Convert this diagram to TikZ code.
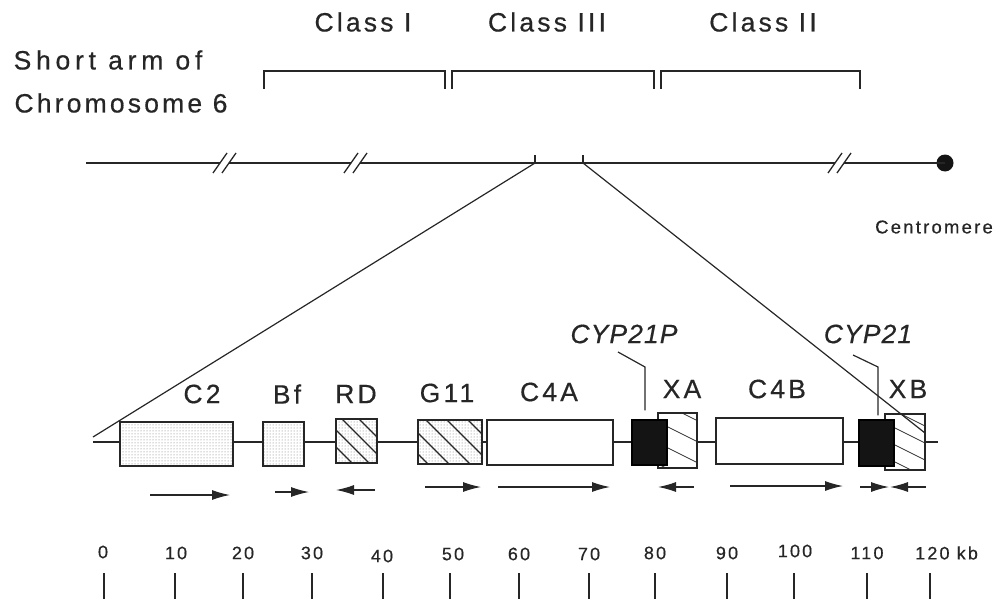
\documentclass[tikz,border=0pt]{standalone}
\usepackage{fontspec}
\setmainfont{Liberation Sans}[LetterSpace=12,FakeBold=0.5]
\usetikzlibrary{arrows.meta,patterns}
\begin{document}
\begin{tikzpicture}[x=1pt,y=-1pt,
  ink/.style={draw=black!85, line width=1.3pt},
  lbl/.style={inner sep=0pt, text=black!85, font=\fontsize{26.5}{30}\selectfont},
  ital/.style={lbl, font=\fontsize{26.5}{30}\selectfont\itshape\addfontfeature{LetterSpace=4}},
  small/.style={inner sep=0pt, text=black!85, font=\fontsize{18}{22}\selectfont},
  gene/.style={draw=black!85, line width=1.4pt, inner sep=0pt, fill=white},
  dotbox/.style={gene, preaction={fill=white}, pattern=dots, pattern color=black!55},
  blackbox/.style={draw=black, line width=1.4pt, inner sep=0pt, fill=black!92},
  hatchD/.style 2 args={path picture={
    \foreach \k in {-5,...,5}
      \draw[black!85, line width=1.2pt] ([xshift={\k*#1pt+#2pt}]path picture bounding box.north west) -- ++(80pt,-80pt);}},
  hatchX/.style 2 args={path picture={
    \foreach \k in {-3,...,4}
      \draw[black!80, line width=0.8pt] ([yshift={-\k*#1pt-#2pt}]path picture bounding box.north west) -- ++(90pt,-45pt);}},
  garrow/.style={draw=black!85, line width=1.2pt, -{Latex[length=18pt,width=10pt]}}
]
\useasboundingbox (0,0) rectangle (998,599);

% ---------- titles ----------
\node[lbl, font=\fontsize{26.5}{30}\selectfont\addfontfeature{LetterSpace=18}] (short) at (108,60) {Short arm of};
\node[lbl] (chrom) at (121,103) {Chromosome 6};
\node[lbl] (c1) at (363,22) {Class I};
\node[lbl] (c3) at (547,22) {Class III};
\node[lbl] (c2) at (763,22) {Class II};

% brackets
\draw[ink] (264,89) -- (264,71) -- (445,71) -- (445,89);
\draw[ink] (452,89) -- (452,71) -- (654,71) -- (654,89);
\draw[ink] (661,89) -- (661,71) -- (860,71) -- (860,89);

% ---------- chromosome ----------
\coordinate (chrL) at (86,163);
\node[circle, fill=black!92, minimum size=17pt, inner sep=0pt] (cen) at (945,163) {};
\node[small, font=\fontsize{18.5}{22}\selectfont] (cenlab) at (934,227) {Centromere};
\draw[ink] (chrL) -- (220,163);
\draw[ink] (213,173) -- (227,153) (222,173) -- (236,153);
\draw[ink] (229,163) -- (351,163);
\draw[ink] (344,173) -- (358,153) (353,173) -- (367,153);
\draw[ink] (360,163) -- (835,163);
\draw[ink] (828,173) -- (842,153) (837,173) -- (851,153);
\draw[ink] (844,163) -- (cen.center);
\coordinate (tA) at (535,163);
\coordinate (tB) at (583,163);
\draw[ink] (tA) -- (535,155);
\draw[ink] (tB) -- (583,155);

% ---------- gene map ----------
\coordinate (gL) at (93,442);
\coordinate (gR) at (938,442);
\draw[ink] (gL) -- (gR);

\node[dotbox, minimum width=113pt, minimum height=44pt] (C2) at (176.5,444) {};
\node[dotbox, minimum width=41pt, minimum height=44pt] (Bf) at (283.5,444) {};
\node[dotbox, hatchD={17}{6}, minimum width=41pt, minimum height=44pt] (RD) at (356.5,441) {};
\node[dotbox, hatchD={21}{8}, minimum width=64pt, minimum height=44pt] (G11) at (450,442) {};
\node[gene, minimum width=126pt, minimum height=45pt] (C4A) at (550,442.5) {};
\node[gene, hatchX={21}{9}, minimum width=39pt, minimum height=55pt] (XA) at (677.5,440.5) {};
\node[blackbox, minimum width=35pt, minimum height=45pt] (CYPP) at (649.5,442.5) {};
\node[gene, minimum width=127pt, minimum height=46pt] (C4B) at (779.5,441) {};
\node[gene, hatchX={17}{9}, minimum width=40pt, minimum height=56pt] (XB) at (905,442) {};
\node[blackbox, minimum width=35pt, minimum height=46pt] (CYP) at (876.5,443) {};

% zoom lines
\coordinate (zL) at (93,437);
\coordinate (zR) at (925,433);
\draw[ink, line width=1.2pt] (tA) -- (zL);
\draw[ink, line width=1.2pt] (tB) -- (zR);

% gene labels
\node[lbl] (lC2) at (202,394) {C2};
\node[lbl] (lBf) at (287,394) {Bf};
\node[lbl] (lRD) at (356,394) {RD};
\node[lbl] (lG11) at (447,393) {G11};
\node[lbl] (lC4A) at (549,392) {C4A};
\node[lbl] (lXA) at (682,389) {XA};
\node[lbl] (lC4B) at (777,389) {C4B};
\node[lbl] (lXB) at (908,389) {XB};
\node[ital] (lCYPP) at (624,334) {CYP21P};
\node[ital] (lCYP) at (868,334) {CYP21};

% leaders
\draw[ink, line width=1.2pt] (618,352) -- (645,367) -- ([yshift=9pt]CYPP.north -| 645,0);
\draw[ink, line width=1.2pt] (853,355) -- (878,367) -- ([yshift=4pt]CYP.north -| 878,0);

% transcription arrows
\draw[garrow] (150,495) -- (230,495);
\draw[garrow] (275,492) -- (309,492);
\draw[garrow] (375,490) -- (336,490);
\draw[garrow] (425,487) -- (481,487);
\draw[garrow] (498,487) -- (610,487);
\draw[garrow] (694,487) -- (658,487);
\draw[garrow] (730,486) -- (843,486);
\draw[garrow] (860,487) -- (889,487);
\draw[garrow] (926,487) -- (890,487);

% ---------- scale ----------
\foreach \x in {104,175,243,312,383,450,519,589,655,727,794,867,930}
  \draw[ink, line width=1.2pt] (\x,573) -- (\x,599);
\node[small] (s0) at (103,552) {0};
\node[small] (s10) at (176,553) {10};
\node[small] (s20) at (243,553) {20};
\node[small] (s30) at (312,553) {30};
\node[small] (s40) at (382,556) {40};
\node[small] (s50) at (453,554) {50};
\node[small] (s60) at (519,554) {60};
\node[small] (s70) at (589,554) {70};
\node[small] (s80) at (655,553) {80};
\node[small] (s90) at (727,553) {90};
\node[small] (s100) at (795,551) {100};
\node[small] (s110) at (867,553) {110};
\node[small, anchor=west] (s120) at (915,553) {120 kb};
\end{tikzpicture}
\end{document}
